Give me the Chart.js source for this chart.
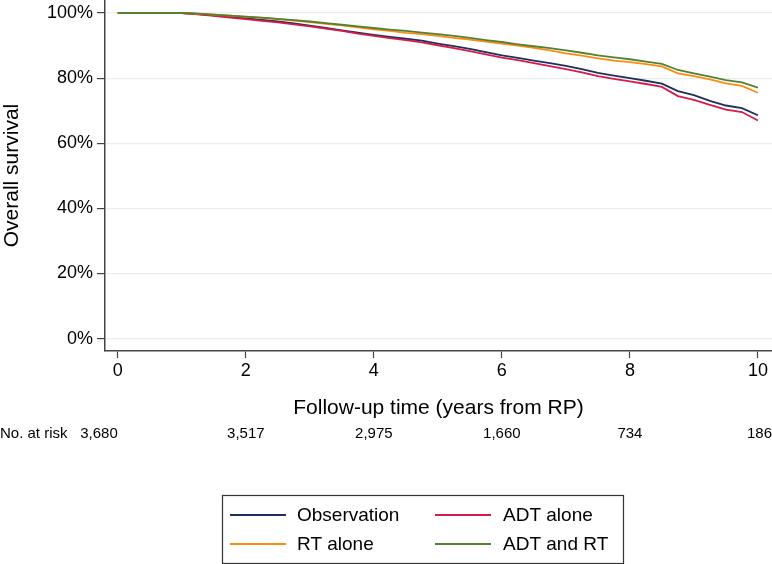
<!DOCTYPE html>
<html>
<head>
<meta charset="utf-8">
<script src="https://cdn.jsdelivr.net/npm/chart.js@4/dist/chart.umd.min.js"></script>
<style>
  html, body { margin: 0; padding: 0; background: #ffffff; }
  #wrap { width: 772px; height: 564px; position: relative; }
</style>
</head>
<body>
<div id="wrap"><canvas id="c" width="772" height="564"></canvas></div>
<script>
// ---- Data ----
const times = [0, 0.25, 0.5, 0.75, 1.0, 1.25, 1.5, 1.75, 2.0, 2.25, 2.5, 2.75, 3.0, 3.25, 3.5, 3.75,
  4.0, 4.25, 4.5, 4.75, 5.0, 5.25, 5.5, 5.75, 6.0, 6.25, 6.5, 6.75, 7.0, 7.25, 7.5, 7.75,
  8.0, 8.25, 8.5, 8.75, 9.0, 9.25, 9.5, 9.75, 10.0];

const observation = [100, 100, 100, 100, 100, 99.7, 99.3, 98.9, 98.4, 97.9, 97.4, 96.8, 96.1, 95.4, 94.7, 94.0,
  93.3, 92.7, 92.1, 91.5, 90.6, 89.8, 89.0, 88.0, 87.0, 86.2, 85.4, 84.6, 83.8, 82.8, 81.6, 80.8,
  80.0, 79.2, 78.3, 76.0, 74.8, 73.0, 71.6, 70.8, 68.6];

const adtAlone = [100, 100, 100, 100, 100, 99.6, 99.1, 98.6, 98.1, 97.6, 97.1, 96.5, 95.9, 95.2, 94.5, 93.7,
  93.0, 92.3, 91.7, 91.0, 90.1, 89.2, 88.3, 87.3, 86.3, 85.5, 84.6, 83.7, 82.8, 81.8, 80.6, 79.8,
  79.0, 78.2, 77.3, 74.5, 73.3, 71.8, 70.3, 69.6, 67.0];

const rtAlone = [100, 100, 100, 100, 100, 99.8, 99.5, 99.2, 98.8, 98.5, 98.1, 97.7, 97.2, 96.7, 96.2, 95.6,
  95.0, 94.5, 93.9, 93.5, 93.0, 92.4, 91.8, 91.2, 90.6, 90.0, 89.3, 88.5, 87.6, 86.9, 86.1, 85.4,
  84.9, 84.3, 83.6, 81.5, 80.6, 79.6, 78.4, 77.6, 75.5];

const adtAndRt = [100, 100, 100, 100, 100, 99.8, 99.5, 99.2, 98.9, 98.6, 98.2, 97.8, 97.4, 96.9, 96.4, 95.9,
  95.4, 94.9, 94.5, 94.0, 93.5, 93.0, 92.4, 91.7, 91.1, 90.4, 89.8, 89.2, 88.5, 87.8, 87.0, 86.4,
  85.8, 85.1, 84.4, 82.5, 81.5, 80.5, 79.4, 78.7, 77.1];

const seriesNames = ['Observation', 'ADT alone', 'RT alone', 'ADT and RT'];
const seriesColors = ['#1e2f5f', '#d81b45', '#ff8a12', '#54812f'];

const xTicks = [0, 2, 4, 6, 8, 10];
const yTicks = [0, 20, 40, 60, 80, 100];

const riskTimes = [0, 2, 4, 6, 8, 10];
const riskCounts = [3680, 3517, 2975, 1660, 734, 186];

// ---- Build chart ----
const FONT = '"Liberation Sans", Arial, Helvetica, sans-serif';
const allSeries = [observation, adtAlone, rtAlone, adtAndRt];

const datasets = allSeries.map((vals, i) => ({
  label: seriesNames[i],
  data: times.map((t, j) => ({ x: t, y: vals[j] })),
  borderColor: seriesColors[i],
  backgroundColor: seriesColors[i],
  borderWidth: 1.8,
  pointRadius: 0,
  tension: 0,
  fill: false,
  order: allSeries.length - i
}));

const overlay = {
  id: 'overlay',
  afterDraw(chart) {
    const ctx = chart.ctx;
    const xs = chart.scales.x;
    ctx.save();
    // risk table
    ctx.fillStyle = '#000';
    ctx.font = '15px ' + FONT;
    ctx.textBaseline = 'middle';
    ctx.textAlign = 'left';
    ctx.fillText('No. at risk', 0, 434);
    riskTimes.forEach((t, i) => {
      const px = xs.getPixelForValue(t);
      const txt = riskCounts[i].toLocaleString('en-US');
      if (i === 0) { ctx.textAlign = 'right'; ctx.fillText(txt, px, 434); }
      else if (i === riskTimes.length - 1) { ctx.textAlign = 'right'; ctx.fillText(txt, chart.width, 434); }
      else { ctx.textAlign = 'center'; ctx.fillText(txt, px, 434); }
    });
    // legend box
    ctx.strokeStyle = '#333';
    ctx.lineWidth = 1.2;
    ctx.strokeRect(222.5, 495.5, 401, 68);
    const cols = [{ lx: 230, tx: 297 }, { lx: 435, tx: 503 }];
    const rows = [515, 544];
    ctx.font = '19px ' + FONT;
    ctx.textAlign = 'left';
    seriesNames.forEach((name, i) => {
      const c = cols[i % 2];
      const r = rows[Math.floor(i / 2)];
      ctx.strokeStyle = seriesColors[i];
      ctx.lineWidth = 1.8;
      ctx.beginPath();
      ctx.moveTo(c.lx, r);
      ctx.lineTo(c.lx + 56, r);
      ctx.stroke();
      ctx.fillStyle = '#000';
      ctx.fillText(name, c.tx, r + 1);
    });
    ctx.restore();
  }
};

new Chart(document.getElementById('c'), {
  type: 'line',
  data: { datasets },
  plugins: [overlay],
  options: {
    responsive: false,
    animation: false,
    devicePixelRatio: 1,
    layout: { padding: { left: 0, right: 0, top: 0, bottom: 0 } },
    plugins: { legend: { display: false }, tooltip: { enabled: false } },
    scales: {
      x: {
        type: 'linear',
        min: -0.2,
        max: 10.22,
        afterBuildTicks(scale) { scale.ticks = xTicks.map(v => ({ value: v })); },
        afterFit(scale) { scale.height = 213; scale.paddingLeft = 0; scale.paddingRight = 0; },
        ticks: { color: '#000', font: { family: FONT, size: 18 }, padding: 2, maxRotation: 0, autoSkip: false },
        grid: { drawOnChartArea: false, drawTicks: true, tickLength: 7, tickColor: '#444', tickWidth: 1.2 },
        border: { display: true, color: '#444', width: 1.5 },
        title: { display: true, text: 'Follow-up time (years from RP)', color: '#000',
                 font: { family: FONT, size: 21 }, padding: { top: 0, bottom: 143 } }
      },
      y: {
        type: 'linear',
        min: -3.8,
        max: 104,
        afterBuildTicks(scale) { scale.ticks = yTicks.map(v => ({ value: v })); },
        afterFit(scale) { scale.width = 105; scale.paddingTop = 0; scale.paddingBottom = 0; },
        ticks: { color: '#000', font: { family: FONT, size: 18 }, padding: 4,
                 callback: v => v + '%' },
        grid: { color: '#e6eff0', lineWidth: 1.2, drawTicks: true, tickLength: 8, tickColor: '#444', tickWidth: 1.2 },
        border: { display: true, color: '#444', width: 1.5 },
        title: { display: true, text: 'Overall survival', color: '#000',
                 font: { family: FONT, size: 21 }, padding: { top: 0, bottom: 0 } }
      }
    }
  }
});
</script>
</body>
</html>
